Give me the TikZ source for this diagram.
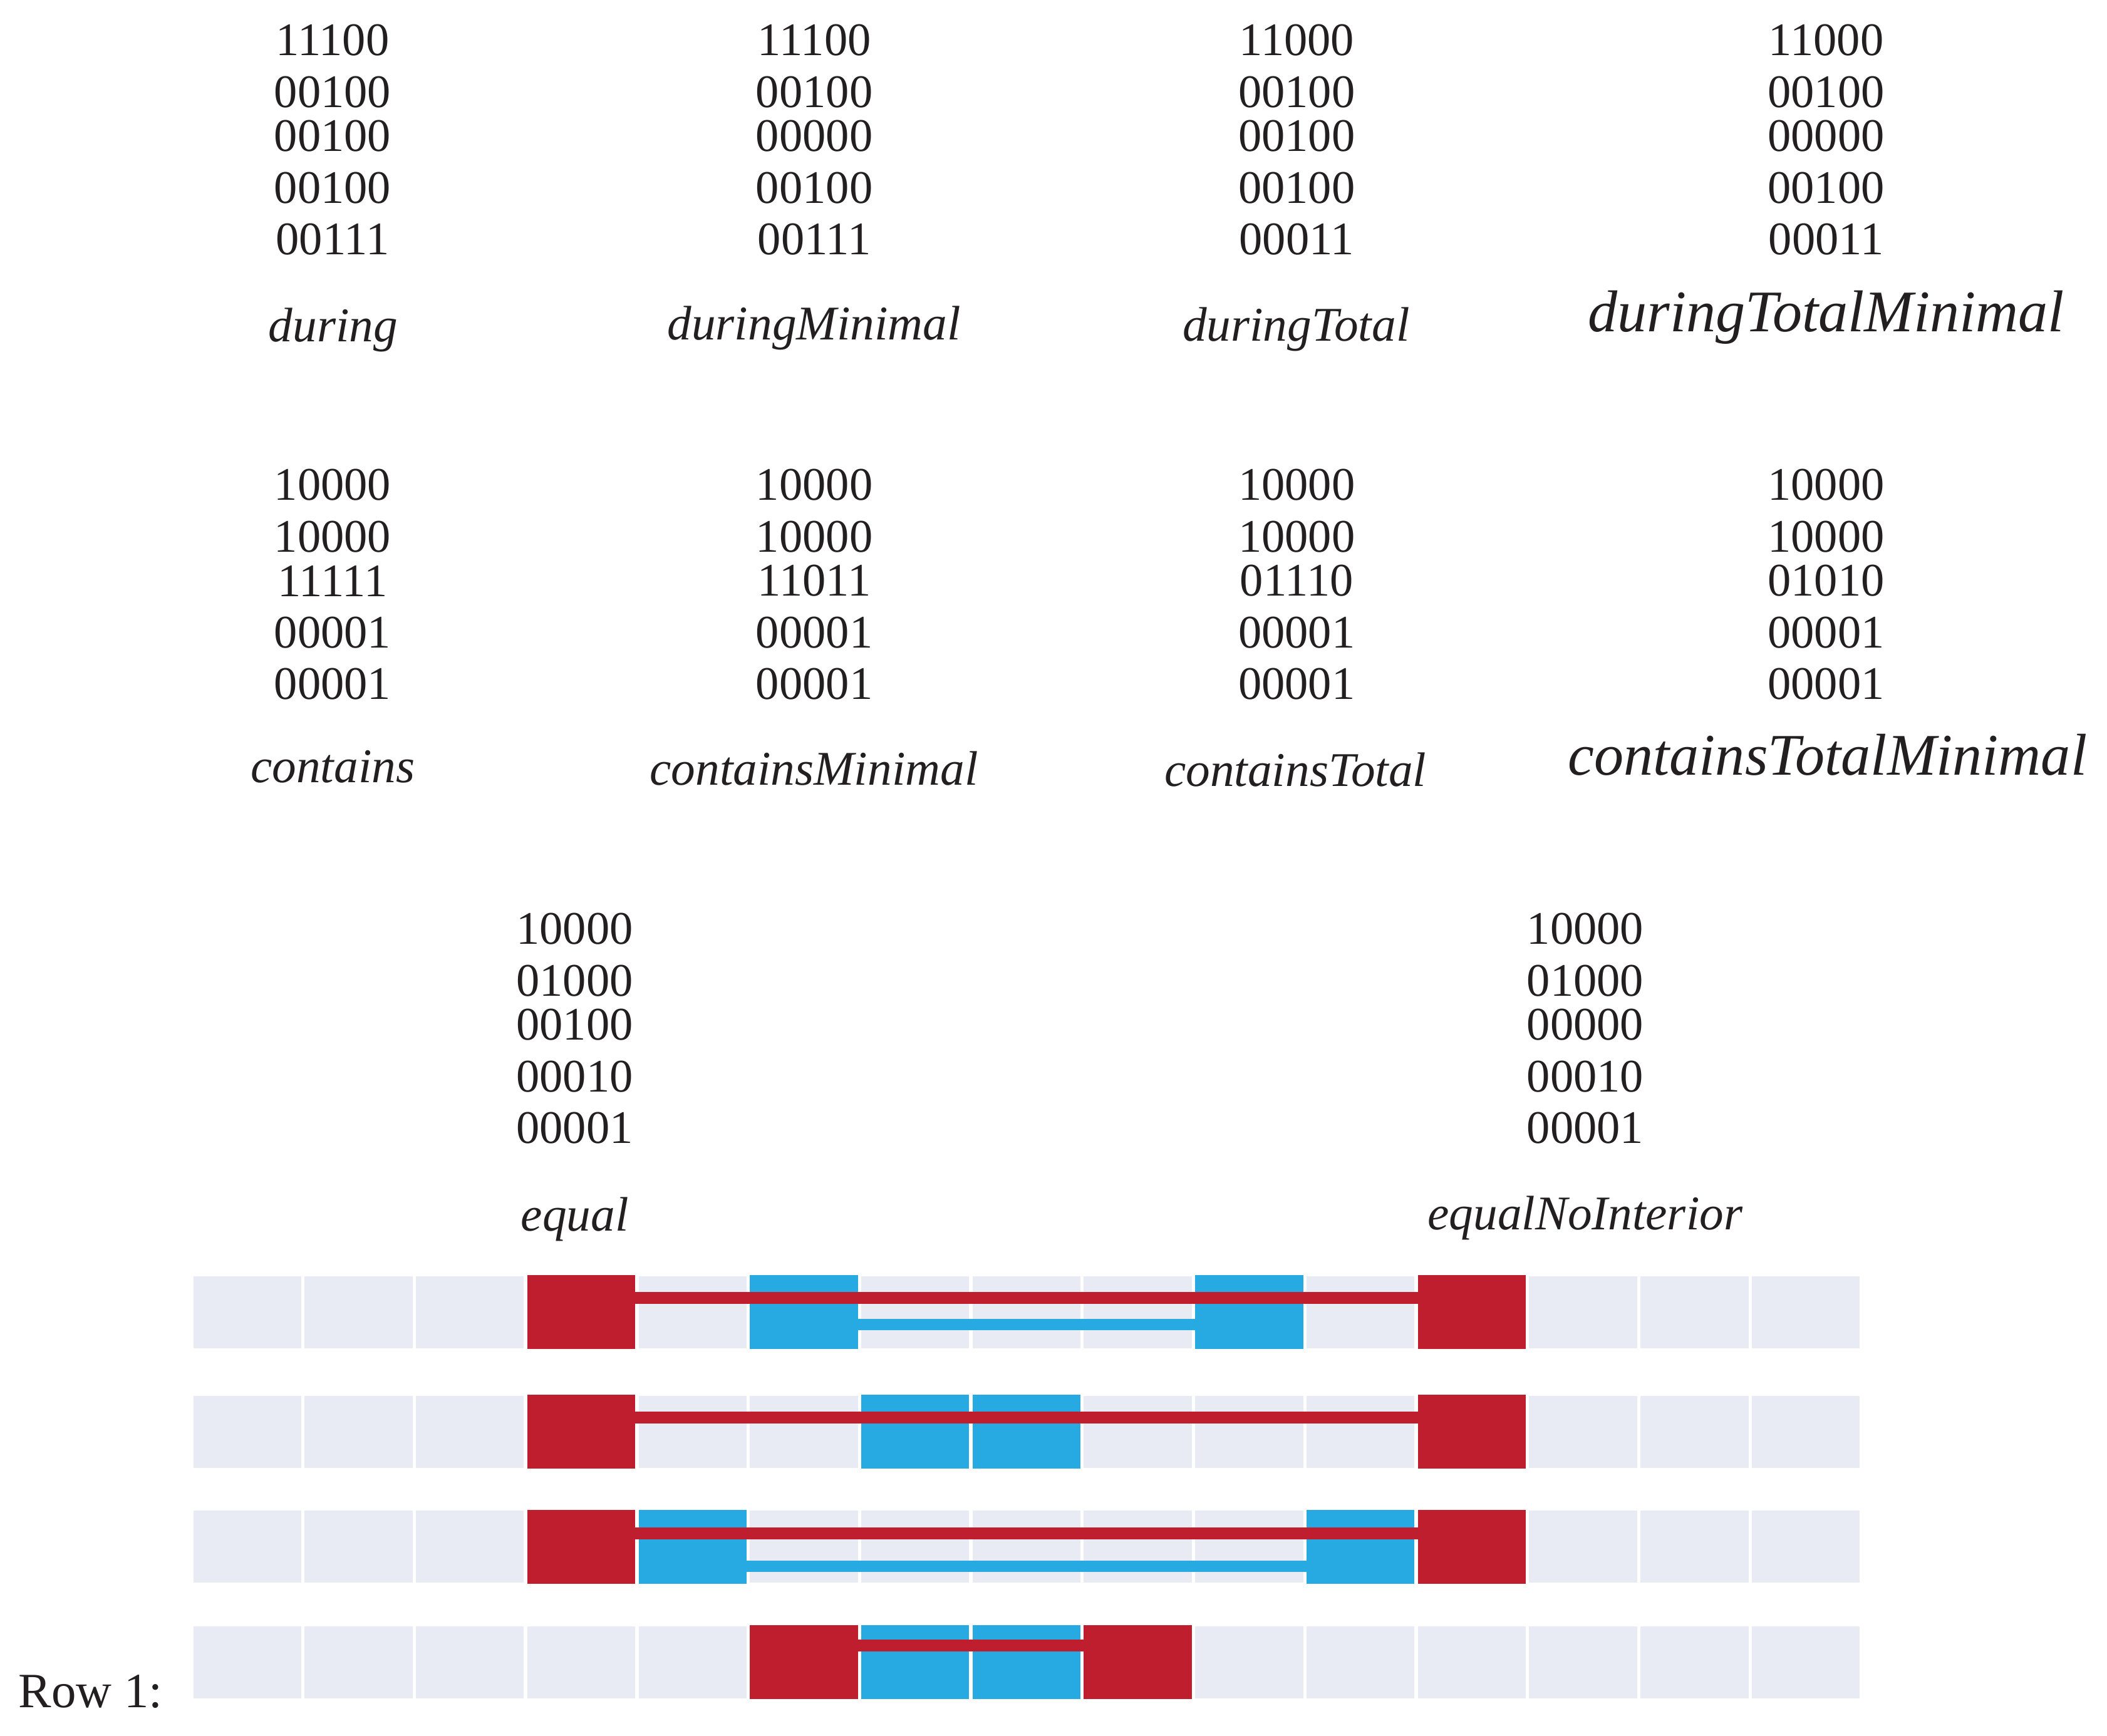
\documentclass[tikz,border=0pt]{standalone}
\usepackage{fontspec}
\setmainfont{Liberation Serif}
\definecolor{cellgray}{RGB}{232,235,244}
\definecolor{ivred}{RGB}{190,30,45}
\definecolor{ivblue}{RGB}{39,170,225}
\definecolor{ink}{RGB}{35,31,32}
\begin{document}
\begin{tikzpicture}[x=0.10727mm, y=-0.10727mm, every node/.style={text=ink},
 bits/.style={inner sep=0pt, font=\fontsize{10.6}{12}\selectfont},
 rel/.style={inner sep=0pt, anchor=base, font=\fontsize{11}{13}\selectfont\itshape},
 bigrel/.style={rel, font=\fontsize{13.4}{15}\selectfont\itshape},
 redcell/.style={anchor=north west, fill=ivred, inner sep=0pt, outer sep=0pt,
   minimum width=8.614mm, minimum height=5.9mm},
 bluecell/.style={redcell, fill=ivblue},
 redlink/.style={draw=ivred, line width=0.92mm},
 bluelink/.style={draw=ivblue, line width=0.92mm}]
\useasboundingbox (0,0) rectangle (1568,1292);
\foreach \n/\x/\y/\m in {dur/247.5/30.1/{11100,00100,00100,00100,00111},
 durmin/606/30.1/{11100,00100,00000,00100,00111},
 durtot/965/30.1/{11000,00100,00100,00100,00011},
 durtotmin/1359/30.1/{11000,00100,00000,00100,00011},
 con/247.5/361/{10000,10000,11111,00001,00001},
 conmin/606/361/{10000,10000,11011,00001,00001},
 contot/965/361/{10000,10000,01110,00001,00001},
 contotmin/1359/361/{10000,10000,01010,00001,00001},
 eq/427.7/691.5/{10000,01000,00100,00010,00001},
 eqni/1179.7/691.5/{10000,01000,00000,00010,00001}}
 \foreach \v [count=\i] in \m {
  \pgfmathsetmacro\dy{{0,38.6,71.3,110,148.2}[\i-1]}
  \node[bits] (\n-\i) at (\x,\y+\dy) {\v};
 }
\node[rel] (l-dur) at (248,254.5) {during};
\node[rel] (l-durmin) at (605.8,252.8) {duringMinimal};
\node[rel] (l-durtot) at (964.5,254) {duringTotal};
\node[bigrel] (l-durtotmin) at (1359,246.7) {duringTotalMinimal};
\node[rel] (l-con) at (247.6,582.3) {contains};
\node[rel] (l-conmin) at (605.7,584.2) {containsMinimal};
\node[rel] (l-contot) at (964,585) {containsTotal};
\node[bigrel] (l-contotmin) at (1360,576.7) {containsTotalMinimal};
\node[rel] (l-eq) at (427.7,916.2) {equal};
\node[rel] (l-eqni) at (1179.7,915.4) {equalNoInterior};
\node[anchor=base, inner sep=0pt, font=\fontsize{11.2}{13}\selectfont] (rowlab)
 at (67.5,1270.9) {Row 1:};
\foreach \top in {950,1039,1124.5,1210.5}
 \foreach \i in {0,...,14}
  \fill[cellgray] ({143.8+82.85*\i},\top) rectangle ++(80.3,53.5);
\node[bluecell] (b1a) at ({143.8+82.85*5},949.2) {};
\node[bluecell] (b1b) at ({143.8+82.85*9},949.2) {};
\draw[bluelink] ([yshift=-3.93mm]b1a.north east) -- ([yshift=-3.93mm]b1b.north west);
\node[redcell] (r1a) at ({143.8+82.85*3},949.2) {};
\node[redcell] (r1b) at ({143.8+82.85*11},949.2) {};
\draw[redlink] ([yshift=-1.8mm]r1a.north east) -- ([yshift=-1.8mm]r1b.north west);
\node[bluecell] (b2a) at ({143.8+82.85*6},1038.2) {};
\node[bluecell] (b2b) at ({143.8+82.85*7},1038.2) {};
\node[redcell] (r2a) at ({143.8+82.85*3},1038.2) {};
\node[redcell] (r2b) at ({143.8+82.85*11},1038.2) {};
\draw[redlink] ([yshift=-1.8mm]r2a.north east) -- ([yshift=-1.8mm]r2b.north west);
\node[bluecell] (b3a) at ({143.8+82.85*4},1123.7) {};
\node[bluecell] (b3b) at ({143.8+82.85*10},1123.7) {};
\draw[bluelink] ([yshift=-4.5mm]b3a.north east) -- ([yshift=-4.5mm]b3b.north west);
\node[redcell] (r3a) at ({143.8+82.85*3},1123.7) {};
\node[redcell] (r3b) at ({143.8+82.85*11},1123.7) {};
\draw[redlink] ([yshift=-1.88mm]r3a.north east) -- ([yshift=-1.88mm]r3b.north west);
\node[bluecell] (b4a) at ({143.8+82.85*6},1209.7) {};
\node[bluecell] (b4b) at ({143.8+82.85*7},1209.7) {};
\node[redcell] (r4a) at ({143.8+82.85*5},1209.7) {};
\node[redcell] (r4b) at ({143.8+82.85*8},1209.7) {};
\draw[redlink] ([yshift=-1.62mm]r4a.north east) -- ([yshift=-1.62mm]r4b.north west);
\end{tikzpicture}
\end{document}
